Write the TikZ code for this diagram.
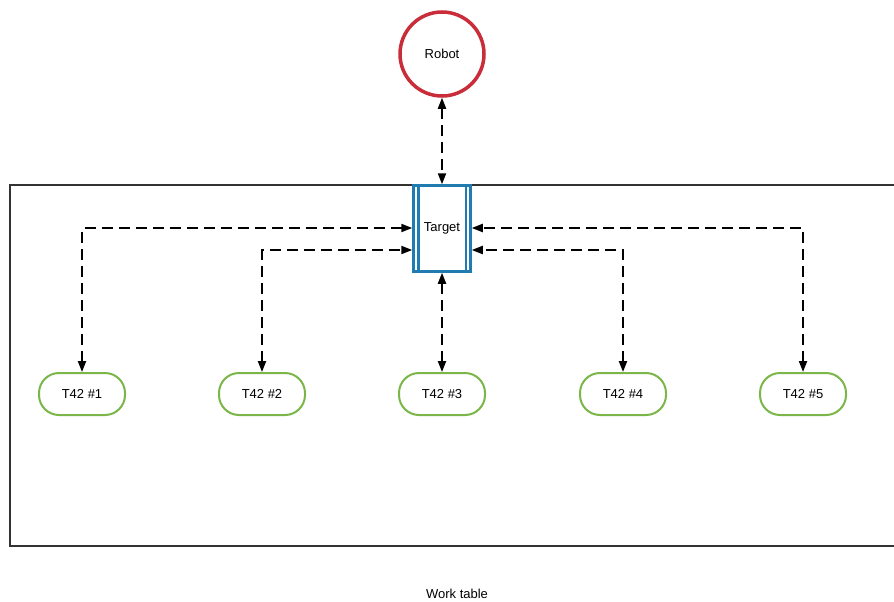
\documentclass[tikz,border=0pt]{standalone}
\usepackage{fontspec}
\setmainfont{Liberation Sans}
\usetikzlibrary{arrows.meta}
\definecolor{robotred}{HTML}{C92D39}
\definecolor{targetblue}{HTML}{1F7BB0}
\definecolor{tgreen}{HTML}{7AB648}
\definecolor{boxgray}{HTML}{333333}
\tikzset{
  lbl/.style={font=\fontsize{13pt}{15pt}\selectfont},
  robotnode/.style={lbl, circle, draw=robotred, line width=3.5pt, minimum size=84pt, inner sep=0pt},
  targetnode/.style={lbl, draw=targetblue, line width=2.5pt, minimum width=57pt, minimum height=86pt, inner sep=0pt,
    append after command={
      ([xshift=6pt]\tikzlastnode.north west) edge[draw=targetblue, line width=2.5pt] ([xshift=6pt]\tikzlastnode.south west)
      ([xshift=-6pt]\tikzlastnode.north east) edge[draw=targetblue, line width=2.5pt] ([xshift=-6pt]\tikzlastnode.south east)
    }},
  tnode/.style={lbl, rounded corners=20pt, draw=tgreen, line width=2pt, minimum width=86pt, minimum height=42pt, inner sep=0pt},
  link/.style={line width=2pt, dash pattern=on 11pt off 6pt, {Triangle[width=8pt,length=11pt]}-{Triangle[width=8pt,length=11pt]}},
}
\begin{document}
\begin{tikzpicture}[x=1pt,y=-1pt]
\clip (0,0) rectangle (894,602);
\fill[white] (0,0) rectangle (894,602);
\draw[boxgray, line width=2pt] (9.5,185) rectangle (905,545.5);
\node[lbl] (wt) at (457,594) {Work table};
\node[robotnode] (robot) at (442,54) {Robot};
\node[targetnode] (target) at (442,228.5) {Target};
\node[tnode] (t1) at (82,394) {T42 \#1};
\node[tnode] (t2) at (262,394) {T42 \#2};
\node[tnode] (t3) at (442,394) {T42 \#3};
\node[tnode] (t4) at (623,394) {T42 \#4};
\node[tnode] (t5) at (803,394) {T42 \#5};
\draw[link] (robot.south) -- (target.north);
\draw[link] (t1.north) |- ([yshift=0.5pt]target.west);
\draw[link] (t2.north) |- ([yshift=-21.5pt]target.west);
\draw[link] (t3.north) -- (target.south);
\draw[link] (t4.north) |- ([yshift=-21.5pt]target.east);
\draw[link] (t5.north) |- ([yshift=0.5pt]target.east);
\end{tikzpicture}
\end{document}
